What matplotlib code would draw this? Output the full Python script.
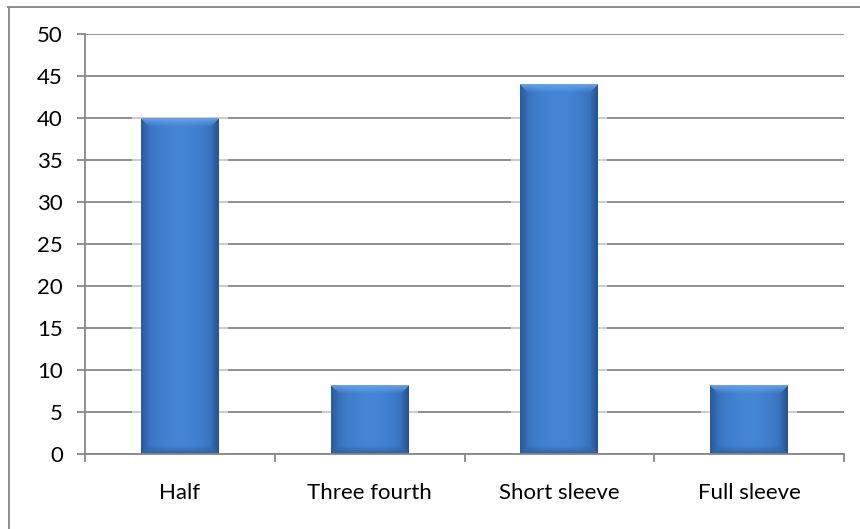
import numpy as np
import matplotlib
matplotlib.use("Agg")
import matplotlib.pyplot as plt
from matplotlib.colors import to_rgb
from matplotlib.lines import Line2D
from matplotlib.patches import Rectangle

categories = ["Half", "Three fourth", "Short sleeve", "Full sleeve"]
values = [40, 8.2, 44, 8.2]
yticks = [0, 5, 10, 15, 20, 25, 30, 35, 40, 45, 50]

GRID = "#878787"
W, H, DPI = 860, 529, 100

plt.rcParams["font.family"] = ["Lato", "DejaVu Sans"]


def bar_texture(wpx, hpx, bevel=8):
    """Bevelled bar fill: light top edge, dark sides/bottom, lighter core."""
    center = np.array(to_rgb("#4485D5"))
    edge = np.array(to_rgb("#3266AE"))
    top = np.array(to_rgb("#6FA8EA"))
    side = np.array(to_rgb("#2A5A9C"))
    bottom = np.array(to_rgb("#2E5D9E"))

    xs = np.linspace(-1, 1, wpx)
    t = np.abs(xs) ** 2.2
    row = center[None, :] * (1 - t[:, None]) + edge[None, :] * t[:, None]
    img = np.repeat(row[None, :, :], hpx, axis=0)

    yy, xx = np.mgrid[0:hpx, 0:wpx]
    d_top = yy
    d_bot = hpx - 1 - yy
    d_left = xx
    d_right = wpx - 1 - xx
    dists = np.stack([d_top, d_bot, d_left, d_right])
    nearest = dists.argmin(axis=0)
    dmin = dists.min(axis=0)
    inside = dmin < bevel
    fade = np.clip(1 - dmin / bevel, 0, 1)[..., None] * 0.85

    for k, col in enumerate([top, bottom, side, side * 0.9]):
        m = inside & (nearest == k)
        img[m] = img[m] * (1 - fade[m]) + col * fade[m]
    return img


fig = plt.figure(figsize=(W / DPI, H / DPI), dpi=DPI)
ax = fig.add_axes([85 / W, 75 / H, (844 - 85) / W, (495 - 75) / H])

x = np.arange(len(categories))
bars = ax.bar(x, values, width=0.41, color="#3F7CC8", zorder=3, linewidth=0)

ax.set_xlim(-0.5, len(categories) - 0.5)
ax.set_ylim(0, 50)

# soft white glow behind each bar, then textured fill clipped to the bar
px_per_x = (844 - 85) / len(categories)
px_per_y = (454 - 34) / 50
for b in bars:
    bx, bw, bh = b.get_x(), b.get_width(), b.get_height()
    pad = 9 / px_per_x
    ax.add_patch(Rectangle((bx - pad, 0), bw + 2 * pad, bh + 0.1,
                           facecolor="white", alpha=0.55, linewidth=0, zorder=2))
    wpx = int(round(bw * px_per_x))
    hpx = max(int(round(bh * px_per_y)), 2)
    ax.imshow(bar_texture(wpx, hpx), extent=(bx, bx + bw, 0, bh),
              aspect="auto", zorder=4, clip_path=b, clip_on=True,
              interpolation="bilinear")

ax.set_xlim(-0.5, len(categories) - 0.5)
ax.set_ylim(0, 50)

ax.set_yticks(yticks)
ax.set_yticklabels([str(v) for v in yticks])
ax.yaxis.grid(True, color=GRID, linewidth=1.3, zorder=1)
ax.set_axisbelow(True)

ax.set_xticks(x)
ax.set_xticklabels(categories)
ax.set_xticks(np.arange(len(categories) + 1) - 0.5, minor=True)
ax.tick_params(axis="x", which="major", length=0, pad=21, labelsize=16)
ax.tick_params(axis="x", which="minor", length=6, width=1.3, color=GRID, direction="out")
ax.tick_params(axis="y", length=6, width=1.3, color=GRID, pad=10, labelsize=16)

for side in ["top", "right"]:
    ax.spines[side].set_visible(False)
for side in ["left", "bottom"]:
    ax.spines[side].set_color(GRID)
    ax.spines[side].set_linewidth(1.3)
    ax.spines[side].set_zorder(5)

# chart area border (runs off the right and bottom edges)
fig.add_artist(Line2D([8 / W, 1.0], [1 - 6.5 / H, 1 - 6.5 / H],
                      transform=fig.transFigure, color="#8C8C8C", linewidth=1.4))
fig.add_artist(Line2D([8.5 / W, 8.5 / W], [0.0, 1 - 6.5 / H],
                      transform=fig.transFigure, color="#8C8C8C", linewidth=1.4))

fig.savefig("out.png", dpi=DPI)
